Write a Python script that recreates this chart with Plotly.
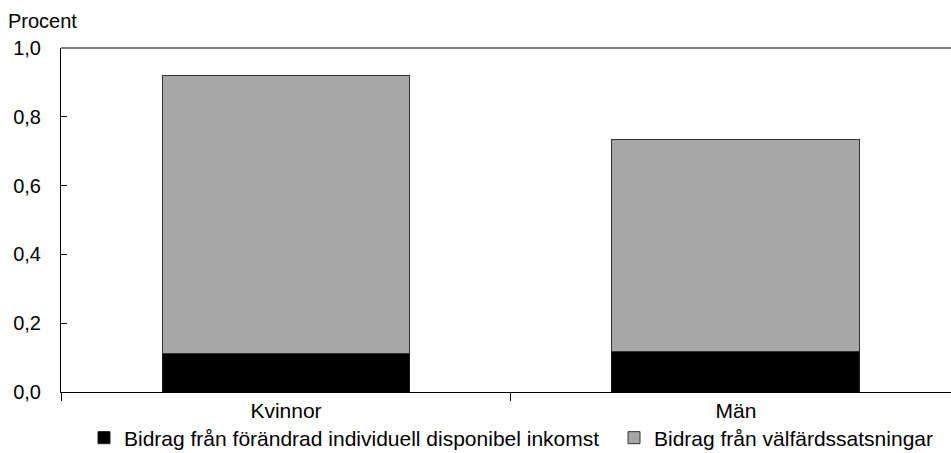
import plotly.graph_objects as go

categories = ["Kvinnor", "Män"]
series_names = ["Bidrag från förändrad individuell disponibel inkomst", "Bidrag från välfärdssatsningar"]
inkomst = [0.113, 0.119]
valfard = [0.808, 0.616]
y_ticks = [0.0, 0.2, 0.4, 0.6, 0.8, 1.0]

FONT = "Liberation Sans, Arial, sans-serif"
XR = [-0.5, 1.478]

fig = go.Figure()
fig.add_trace(go.Bar(
    x=categories, y=inkomst, name=series_names[0],
    marker=dict(color="#000000", line=dict(color="#1a1a1a", width=1)),
    width=0.551, legendwidth=485,
))
fig.add_trace(go.Bar(
    x=categories, y=valfard, name=series_names[1],
    marker=dict(color="#a6a6a6", line=dict(color="#333333", width=1)),
    width=0.551,
))

fig.update_layout(
    barmode="stack",
    width=951, height=453,
    margin=dict(l=61, r=0, t=48, b=61, autoexpand=False),
    paper_bgcolor="white", plot_bgcolor="white",
    separators=", ",
    font=dict(family=FONT, size=21, color="#000000"),
    showlegend=True,
    legend=dict(
        orientation="h", x=84 / 951, xanchor="left", xref="container",
        y=1 - 438 / 453, yanchor="middle", yref="container",
        font=dict(size=21), itemwidth=30, traceorder="normal",
        bgcolor="rgba(0,0,0,0)", borderwidth=0,
    ),
    annotations=[dict(
        text="Procent", xref="paper", yref="paper", x=-0.062, y=1.078,
        xanchor="left", yanchor="middle", showarrow=False,
        font=dict(size=20, family=FONT, color="#000000"),
    )],
    shapes=[dict(
        type="line", xref="paper", yref="paper", x0=0, x1=1, y0=1, y1=1,
        line=dict(color="#595959", width=1.5), layer="above",
    )],
)
fig.update_layout(xaxis=dict(
    range=XR, showline=True, linecolor="#000000", linewidth=1,
    ticks="outside", tickson="boundaries", ticklen=8,
    tickcolor="#000000", showgrid=False, zeroline=False,
    tickfont=dict(size=21), automargin=False,
))
fig.update_yaxes(
    range=[0, 1.0], tickvals=y_ticks, tickformat=".1f",
    showline=True, linecolor="#000000", linewidth=1,
    ticks="inside", ticklen=6, tickcolor="#000000",
    showgrid=False, zeroline=False, tickfont=dict(size=20),
    ticklabelstandoff=15, automargin=False,
)

fig.write_html(
    "out.html",
    config={"displayModeBar": False},
    post_script="document.body.style.margin='0px';document.body.style.overflow='hidden';",
)
